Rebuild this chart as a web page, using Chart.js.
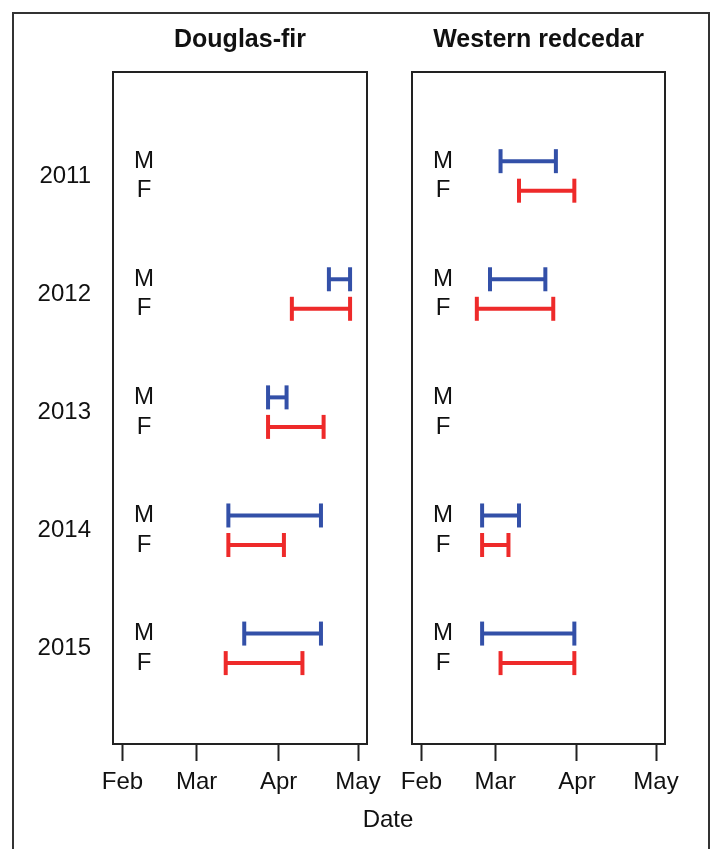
<!DOCTYPE html>
<html>
<head>
<meta charset="utf-8">
<script src="https://cdn.jsdelivr.net/npm/chart.js@4"></script>
<style>
    html, body { margin:0; padding:0; background:#fff; }
    body { width:711px; height:849px; overflow:hidden; position:relative; font-family:'Liberation Sans', Arial, sans-serif; }
    .outer { position:absolute; left:12px; top:12px; width:694px; height:900px; border:2px solid #333; border-bottom:none; }
    .panel { position:absolute; top:0; height:849px; }
    #left-wrap  { left:0;   width:390px; }
    #right-wrap { left:390px; width:321px; }
    .xlabel { position:absolute; left:0; width:776px; top:805px; text-align:center; font-size:24px; color:#111; }
</style>
</head>
<body>
<div class="outer"></div>
<div class="panel" id="left-wrap"><canvas id="chart-df"></canvas></div>
<div class="panel" id="right-wrap"><canvas id="chart-wr"></canvas></div>
<div class="xlabel">Date</div>

<script>
// ============================================================
// DATA — flowering periods, day of year (null = not observed)
// ============================================================

const years       = ['2011', '2012', '2013', '2014', '2015'];
const monthLabels = ['Feb', 'Mar', 'Apr', 'May'];
const monthDays   = [32, 60, 91, 121];   // day of year of the 1st

// Douglas-fir
const dfMaleStart   = [null, 110, 87, 72, 78];
const dfMaleEnd     = [null, 118, 94, 107, 107];
const dfFemaleStart = [null, 96, 87, 72, 71];
const dfFemaleEnd   = [null, 118, 108, 93, 100];

// Western redcedar
const wrMaleStart   = [62, 58, null, 55, 55];
const wrMaleEnd     = [83, 79, null, 69, 90];
const wrFemaleStart = [69, 53, null, 55, 62];
const wrFemaleEnd   = [90, 82, null, 65, 90];

// ============================================================
// STYLE
// ============================================================

const BLUE    = '#3350A8';
const RED     = '#EE2A2A';
const INK     = '#111111';
const FONT    = "'Liberation Sans', Arial, sans-serif";
const ROW_OFF = 0.125;   // M above, F below the year line

const framePlugin = {
    id: 'frame',
    afterDraw(chart) {
        const { ctx, chartArea: a } = chart;
        ctx.save();
        ctx.strokeStyle = '#222';
        ctx.lineWidth   = 2;
        ctx.strokeRect(a.left, a.top, a.right - a.left, a.bottom - a.top);
        ctx.restore();
    }
};

function buildDatasets(mStart, mEnd, fStart, fEnd) {
    const sets = [];
    years.forEach((yr, i) => {
        [[mStart, mEnd, -ROW_OFF, BLUE], [fStart, fEnd, ROW_OFF, RED]].forEach(([s, e, off, col]) => {
            if (s[i] == null) return;
            sets.push({
                label: yr,
                data: [{ x: s[i], y: i + off }, { x: e[i], y: i + off }],
                showLine: true,
                borderColor: col,
                borderWidth: 4,
                pointStyle: 'line',
                pointRotation: 90,
                pointRadius: 12,
                pointHoverRadius: 12,
                pointBorderWidth: 4,
                pointBorderColor: col,
                pointBackgroundColor: col
            });
        });
    });
    return sets;
}

function makePanel(id, title, datasets, showYears, pad) {
    const yRange = { min: -0.88, max: 4.81, reverse: true };

    new Chart(document.getElementById(id), {
        type: 'scatter',
        data: { datasets },
        plugins: [framePlugin],
        options: {
            responsive: true,
            maintainAspectRatio: false,
            animation: false,
            layout: { padding: pad },
            plugins: {
                legend:  { display: false },
                tooltip: { enabled: false },
                title: {
                    display: true,
                    text: title,
                    fullSize: false,
                    color: INK,
                    font: { family: FONT, size: 25, weight: 'bold' },
                    padding: { top: 5, bottom: 17 }
                }
            },
            scales: {
                x: {
                    type: 'linear',
                    position: 'bottom',
                    min: 28.4,
                    max: 124.4,
                    afterBuildTicks: s => { s.ticks = monthDays.map(v => ({ value: v })); },
                    afterFit: s => { s.height = 105; },
                    border: { display: false },
                    grid: {
                        drawOnChartArea: false,
                        drawTicks: true,
                        tickLength: 17,
                        tickWidth: 2,
                        tickColor: '#222'
                    },
                    ticks: {
                        padding: 7,
                        color: INK,
                        font: { family: FONT, size: 24 },
                        maxRotation: 0,
                        autoSkip: false,
                        callback: (v, i) => monthLabels[i]
                    }
                },
                y: {
                    type: 'linear',
                    position: 'left',
                    weight: 1,
                    display: showYears,
                    ...yRange,
                    afterBuildTicks: s => { s.ticks = years.map((_, i) => ({ value: i })); },
                    afterFit: s => { s.width = showYears ? 113 : 0; },
                    border: { display: false },
                    grid: { display: false, drawTicks: false },
                    ticks: {
                        padding: 22,
                        color: INK,
                        font: { family: FONT, size: 24 },
                        callback: (v, i) => years[i]
                    }
                },
                rows: {
                    type: 'linear',
                    position: 'left',
                    weight: 0,
                    ...yRange,
                    afterBuildTicks: s => {
                        s.ticks = years.flatMap((_, i) => [{ value: i - ROW_OFF }, { value: i + ROW_OFF }]);
                    },
                    afterFit: s => { s.width = 0; },
                    border: { display: false },
                    grid: { display: false, drawTicks: false },
                    ticks: {
                        mirror: true,
                        crossAlign: 'center',
                        padding: 21,
                        color: INK,
                        font: { family: FONT, size: 24 },
                        autoSkip: false,
                        callback: (v, i) => (i % 2 ? 'F' : 'M')
                    }
                }
            }
        }
    });
}

makePanel('chart-df', 'Douglas-fir',
    buildDatasets(dfMaleStart, dfMaleEnd, dfFemaleStart, dfFemaleEnd),
    true, { top: 20, left: 0, right: 23, bottom: 0 });

makePanel('chart-wr', 'Western redcedar',
    buildDatasets(wrMaleStart, wrMaleEnd, wrFemaleStart, wrFemaleEnd),
    false, { top: 20, left: 22, right: 46, bottom: 0 });
</script>
</body>
</html>
